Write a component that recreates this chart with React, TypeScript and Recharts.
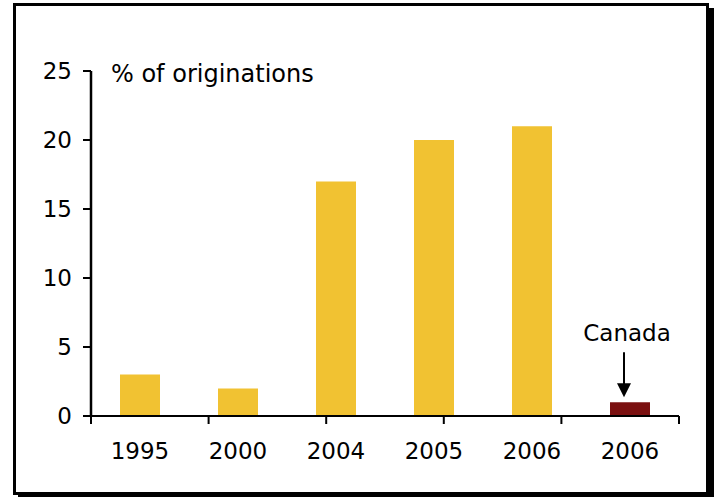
import { BarChart, Bar, XAxis, YAxis, Cell } from 'recharts'

const years = ['1995', '2000', '2004', '2005', '2006', '2006']
const regions = ['US', 'US', 'US', 'US', 'US', 'Canada']
const shares = [3, 2, 17, 20, 21, 1]
const yTicks = [0, 5, 10, 15, 20, 25]
const bandEdges = [0, 1, 2, 3, 4, 5, 6]

const data = years.map((year, i) => ({ idx: i, year, region: regions[i], share: shares[i] }))

const FONT = '"DejaVu Sans", Verdana, sans-serif'
const tickStyle = { fill: '#000', fontSize: 23, fontFamily: FONT }

const YELLOW = '#F1C232'
const MAROON = '#7A1010'

// arrow + caption over the Canada bar
function CanadaCallout(props: any) {
  const { x, y, width, index } = props
  if (regions[index] !== 'Canada') return null
  const cx = x + width / 2 - 6
  const tip = y - 5
  return (
    <g>
      <text x={cx + 3} y={tip - 56} textAnchor="middle" fontSize={23} fontFamily={FONT} fill="#000">
        Canada
      </text>
      <line x1={cx} y1={tip - 45} x2={cx} y2={tip - 12} stroke="#000" strokeWidth={2} />
      <polygon points={`${cx - 7},${tip - 14} ${cx + 7},${tip - 14} ${cx},${tip}`} fill="#000" />
    </g>
  )
}

function UnitLabel(props: any) {
  const vb = props.viewBox || { x: 31, y: 71, width: 60 }
  return (
    <text x={vb.x + vb.width + 20} y={vb.y + 11} fontSize={24} fontFamily={FONT} fill="#000">
      % of originations
    </text>
  )
}

const NoText = () => <g />

export default function App() {
  return (
    <div style={{ position: 'absolute', left: 0, top: 0, width: 714, height: 497, background: '#fff' }}>
      <div
        style={{
          position: 'absolute',
          left: 13,
          top: 3,
          width: 690,
          height: 486,
          border: '3px solid #000',
          boxShadow: '5px 5px 0 #000',
        }}
      />
      <div style={{ position: 'absolute', left: 0, top: 0 }}>
        <BarChart width={714} height={497} data={data} margin={{ top: 71, right: 35, bottom: 31, left: 31 }}>
          <XAxis
            xAxisId="cat"
            dataKey="idx"
            height={49}
            tickFormatter={(i: number) => years[i]}
            tick={tickStyle}
            tickLine={false}
            axisLine={false}
            tickMargin={20}
          />
          {/* band boundaries: ticks sit between the categories */}
          <XAxis
            type="number"
            domain={[0, 6]}
            ticks={bandEdges}
            interval={0}
            allowDataOverflow
            height={1}
            tick={<NoText />}
            tickSize={8}
            stroke="#000"
            axisLine={{ stroke: '#000', strokeWidth: 2 }}
            tickLine={{ stroke: '#000', strokeWidth: 2 }}
          />
          <YAxis
            width={60}
            domain={[0, 25]}
            ticks={yTicks}
            interval={0}
            tick={tickStyle}
            tickSize={8}
            tickMargin={11}
            stroke="#000"
            axisLine={{ stroke: '#000', strokeWidth: 2.5 }}
            tickLine={{ stroke: '#000', strokeWidth: 2 }}
            label={<UnitLabel />}
          />
          <Bar xAxisId="cat" dataKey="share" barSize={40} isAnimationActive={false} label={<CanadaCallout />}>
            {data.map((d) => (
              <Cell key={d.idx} fill={d.region === 'Canada' ? MAROON : YELLOW} />
            ))}
          </Bar>
        </BarChart>
      </div>
    </div>
  )
}
